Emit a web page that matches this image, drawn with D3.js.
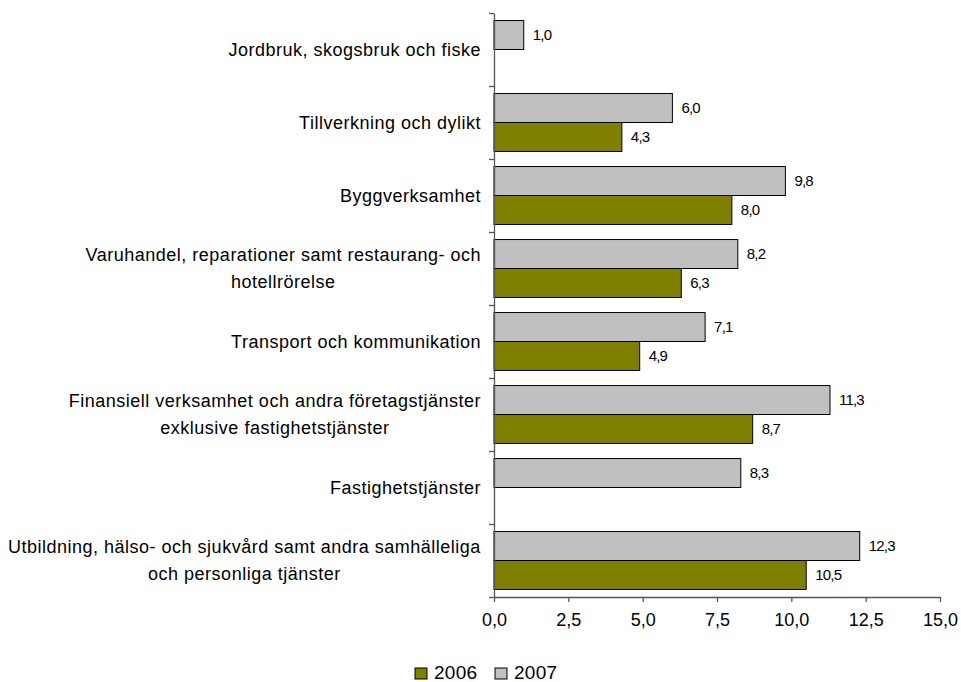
<!DOCTYPE html>
<html><head><meta charset="utf-8">
<script src="https://cdn.jsdelivr.net/npm/d3@7"></script>
<style>
html,body{margin:0;padding:0;background:#fff;}
text{font-family:"Liberation Sans",Arial,sans-serif;fill:#000;}
</style></head>
<body>
<svg id="chart" width="961" height="682"></svg>
<script>
const categories = [
  ["Jordbruk, skogsbruk och fiske"],
  ["Tillverkning och dylikt"],
  ["Byggverksamhet"],
  ["Varuhandel, reparationer samt restaurang- och", "hotellrörelse"],
  ["Transport och kommunikation"],
  ["Finansiell verksamhet och andra företagstjänster", "exklusive fastighetstjänster"],
  ["Fastighetstjänster"],
  ["Utbildning, hälso- och sjukvård samt andra samhälleliga", "och personliga tjänster"]
];
const values2006 = [null, 4.3, 8.0, 6.3, 4.9, 8.7, null, 10.5];
const values2007 = [1.0, 6.0, 9.8, 8.2, 7.1, 11.3, 8.3, 12.3];
const xTicks = [0, 2.5, 5, 7.5, 10, 12.5, 15];
const seriesNames = ["2006", "2007"];
const seriesColors = ["#808000", "#C0C0C0"];

const svg = d3.select("#chart");
const fmt = v => d3.format(".1f")(v).replace(".", ",");

const x = d3.scaleLinear().domain([0, 15]).range([494, 940]);
const y = d3.scaleBand().domain(d3.range(categories.length)).range([13, 597]).padding(0);
const bw = y.bandwidth();
const inner = d3.scaleBand().domain(["2007", "2006"]).range([0, bw]).paddingInner(0).paddingOuter(0.26);

const series = [
  {name: seriesNames[0], vals: values2006, color: seriesColors[0]},
  {name: seriesNames[1], vals: values2007, color: seriesColors[1]}
];
series.forEach(s => {
  const g = svg.append("g");
  s.vals.forEach((v, i) => {
    if (v == null) return;
    const y0 = y(i) + inner(s.name);
    g.append("rect")
      .attr("x", x(0)).attr("y", y0)
      .attr("width", x(v) - x(0)).attr("height", inner.bandwidth())
      .attr("fill", s.color).attr("stroke", "#000").attr("stroke-width", 1);
    g.append("text")
      .attr("x", x(v) + 9).attr("y", y0 + inner.bandwidth() / 2)
      .attr("dy", "0.35em")
      .style("font-size", "15px").style("letter-spacing", "-0.8px")
      .text(fmt(v));
  });
});

// x axis
const xAxis = d3.axisBottom(x).tickValues(xTicks).tickFormat(fmt).tickSize(5).tickSizeOuter(0);
const gx = svg.append("g").attr("transform", "translate(0,597)").call(xAxis);
gx.select(".domain").attr("stroke", "#555").attr("stroke-width", 1.3);
gx.selectAll(".tick line").attr("stroke", "#555").attr("stroke-width", 1.3);
gx.selectAll(".tick text").attr("y", 16).style("font-size", "18px").style("font-family", "Liberation Sans, Arial, sans-serif").attr("fill", "#000");

// y axis
const yAxis = d3.axisLeft(d3.scaleLinear().domain([0, categories.length]).range([13, 597]))
  .tickValues(d3.range(categories.length + 1)).tickFormat("").tickSize(5).tickSizeOuter(0);
const gy = svg.append("g").attr("transform", "translate(494,0)").call(yAxis);
gy.select(".domain").attr("stroke", "#555").attr("stroke-width", 1.3);
gy.selectAll(".tick line").attr("stroke", "#555").attr("stroke-width", 1.3);

// category labels
const lh = 27;
categories.forEach((lines, i) => {
  const cy = y(i) + bw / 2;
  const t = svg.append("text").style("font-size", "18px").style("letter-spacing", "0.5px").attr("text-anchor", "middle");
  lines.forEach((ln, k) => {
    t.append("tspan").attr("x", 0).attr("y", cy + (k - (lines.length - 1) / 2) * lh).attr("dy", "0.35em").text(ln);
  });
  const w = t.node().getBBox().width;
  t.selectAll("tspan").attr("x", 481 - w / 2);
});

// legend
const leg = svg.append("g");
const legX = [415, 495];
series.forEach((s, i) => {
  leg.append("rect").attr("x", legX[i]).attr("y", 668).attr("width", 12).attr("height", 11)
    .attr("fill", s.color).attr("stroke", "#000").attr("stroke-width", 1);
  leg.append("text").attr("x", legX[i] + 19).attr("y", 679)
    .style("font-size", "19px").style("letter-spacing", "0.3px").text(s.name);
});
</script>
</body></html>
